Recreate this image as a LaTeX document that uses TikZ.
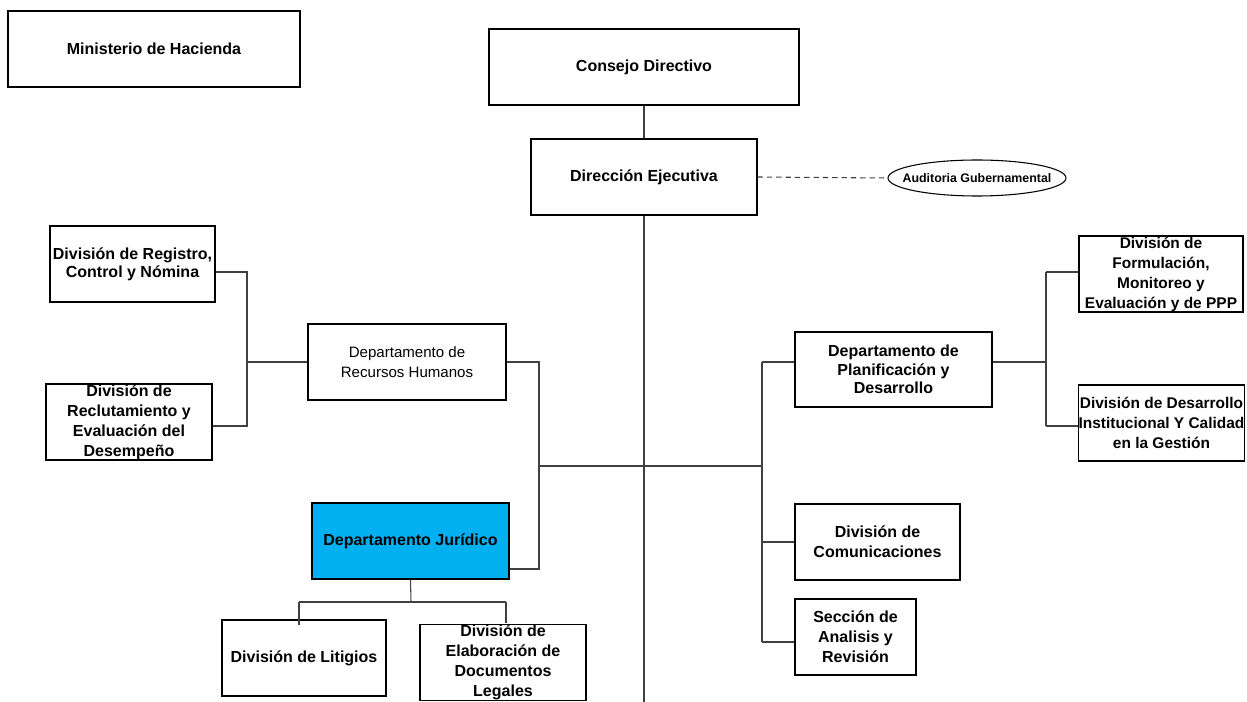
\documentclass[tikz,border=0pt]{standalone}
\usepackage{fontspec}
\setmainfont{Liberation Sans}
\usetikzlibrary{shapes.geometric}
\begin{document}
\begin{tikzpicture}[x=0.75pt,y=-0.75pt,
  box/.style={draw=black, line width=0.8pt, align=center, inner sep=0pt,
    font=\bfseries\fontsize{12}{15}\selectfont},
  tight/.style={font=\bfseries\fontsize{12}{13.8}\selectfont},
  small/.style={font=\bfseries\fontsize{11.6}{15}\selectfont},
  plain/.style={font=\fontsize{11.3}{15}\selectfont},
  wh/.style 2 args={minimum width=#1*0.75pt, minimum height=#2*0.75pt},
  conn/.style={draw=black!75, line width=0.8pt},
]
\useasboundingbox (0,0) rectangle (1247,702);
% boxes
\node[box, wh={292}{76}] (min) at (154,49) {Ministerio de Hacienda};
\node[box, wh={310}{76}] (cons) at (644,67) {Consejo Directivo};
\node[box, wh={226}{76}] (dir) at (644,177) {Dirección Ejecutiva};
\node[ellipse, draw=black, line width=0.8pt, inner xsep=-9pt, inner ysep=0pt, wh={178}{36},
  font=\bfseries\fontsize{9.3}{11}\selectfont] (aud) at (977,178) {Auditoria Gubernamental};
\node[box, tight, wh={165}{76}] (reg) at (132.5,264) {División de Registro,\\Control y Nómina};
\node[box, wh={166}{76}] (recl) at (129,422) {División de\\Reclutamiento y\\Evaluación del\\Desempeño};
\node[box, plain, wh={198}{76}] (rrhh) at (407,362) {Departamento de\\Recursos Humanos};
\node[box, fill={rgb,255:red,0;green,176;blue,240}, wh={197}{76}] (jur) at (410.5,541) {Departamento Jurídico};
\node[box, wh={164}{76}] (lit) at (304,658) {División de Litigios};
\node[box, wh={166}{75}] (elab) at (503,662.5) {División de\\Elaboración de\\Documentos\\Legales};
\node[box, tight, wh={197}{75}] (plan) at (893.5,369.5) {Departamento de\\Planificación y\\Desarrollo};
\node[box, wh={165}{76}] (com) at (877.5,542) {División de\\Comunicaciones};
\node[box, wh={121}{76}] (sec) at (855.5,637) {Sección de\\Analisis y\\Revisión};
\node[box, small, wh={164}{76}] (form) at (1161,274) {División de\\Formulación,\\Monitoreo y\\Evaluación y de PPP};
\node[box, small, wh={163}{76}] (desi) at (1161.5,423) {División de Desarrollo\\Institucional Y Calidad\\en la Gestión};
% junction coordinates
\coordinate (bot) at (644,702);
\coordinate (hr1) at (247,272);
\coordinate (hr2) at (247,426);
\coordinate (hm) at (247,362);
\coordinate (jr1) at (539,362);
\coordinate (jr2) at (539,569);
\coordinate (hj) at (539,466);
\coordinate (hp) at (762,466);
\coordinate (pl1) at (762,362);
\coordinate (pl2) at (762,542);
\coordinate (pl3) at (762,642);
\coordinate (pr1) at (1046,362);
\coordinate (pr2) at (1046,272);
\coordinate (pr3) at (1046,426);
\coordinate (jd) at (411,602);
\coordinate (jd1) at (299,602);
\coordinate (jd2) at (506,602);
\coordinate (jd1e) at (299,625);
\coordinate (jd2e) at (506,623);
% connectors
\draw[conn] (cons.south) -- (dir.north);
\draw[conn] (dir.south) -- (bot);
\draw[conn, dashed, dash pattern=on 4pt off 3pt] (dir.east) -- (aud.west);
\draw[conn] (hr1 -| reg.east) -- (hr1) -- (hr2) -- (hr2 -| recl.east);
\draw[conn] (hm) -- (rrhh.west);
\draw[conn] (rrhh.east) -- (jr1) -- (jr2) -- (jr2 -| jur.east);
\draw[conn] (hj) -- (hp);
\draw[conn] (pl1) -- (pl3);
\draw[conn] (pl1) -- (pl1 -| plan.west);
\draw[conn] (pl2) -- (com.west);
\draw[conn] (pl3) -- (pl3 -| sec.west);
\draw[conn] (pr1 -| plan.east) -- (pr1);
\draw[conn] (pr2) -- (pr3);
\draw[conn] (pr2) -- (pr2 -| form.west);
\draw[conn] (pr3) -- (pr3 -| desi.west);
\draw[conn] (jur.south) -- (jd);
\draw[conn] (jd1) -- (jd2);
\draw[conn] (jd1) -- (jd1e);
\draw[conn] (jd2) -- (jd2e);
\end{tikzpicture}
\end{document}
